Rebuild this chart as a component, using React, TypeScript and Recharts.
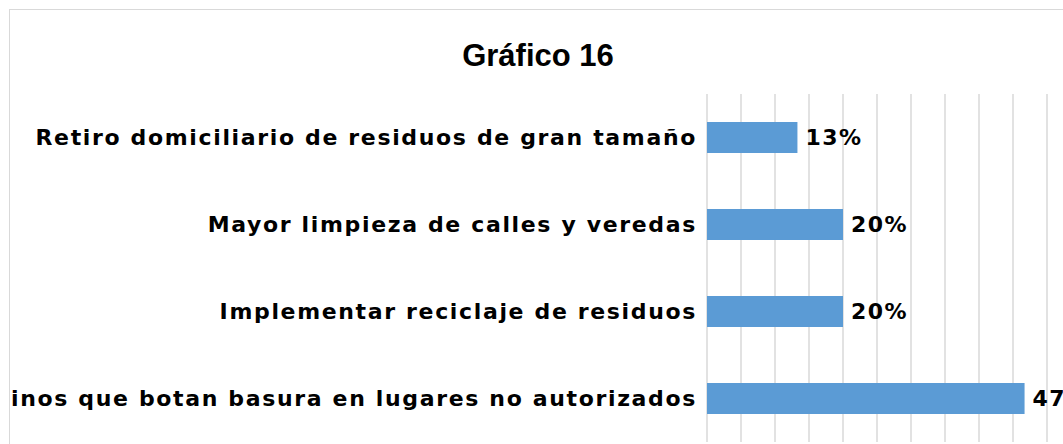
import React from 'react';
import { BarChart, Bar, XAxis, YAxis, CartesianGrid, LabelList } from 'recharts';

// Survey answers, top to bottom as they appear in the chart
const categories = [
  'Retiro domiciliario de residuos de gran tamaño',
  'Mayor limpieza de calles y veredas',
  'Implementar reciclaje de residuos',
  'Sancionar a vecinos que botan basura en lugares no autorizados',
];
const shares = [0.133, 0.2, 0.2, 0.467];
const gridTicks = [0, 0.05, 0.1, 0.15, 0.2, 0.25, 0.3, 0.35, 0.4, 0.45, 0.5];

const data = categories.map((name, i) => ({ name, value: shares[i] }));

const labelFont = "'DejaVu Sans', sans-serif";

const App: React.FC = () => {
  return (
    <div
      style={{
        position: 'fixed',
        left: 0,
        top: 0,
        width: 1063,
        height: 444,
        overflow: 'hidden',
        background: '#fff',
      }}
    >
      <div
        style={{
          position: 'absolute',
          left: 9,
          top: 9,
          width: 1058,
          height: 500,
          boxSizing: 'border-box',
          border: '1px solid #d9d9d9',
          overflow: 'hidden',
        }}
      >
        <div
          style={{
            position: 'absolute',
            left: 0,
            right: 0,
            top: 28,
            textAlign: 'center',
            fontFamily: "'Liberation Sans', Arial, sans-serif",
            fontWeight: 'bold',
            fontSize: 31,
            lineHeight: '36px',
            color: '#000',
          }}
        >
          Gráfico 16
        </div>
        <BarChart
          width={1056}
          height={480}
          data={data}
          layout="vertical"
          margin={{ top: 84, right: 19, left: 0, bottom: 48 }}
          barSize={31}
        >
          <CartesianGrid horizontal={false} vertical stroke="#d9d9d9" strokeWidth={1.5} />
          <XAxis type="number" domain={[0, 0.5]} ticks={gridTicks} hide />
          <YAxis
            type="category"
            dataKey="name"
            width={697}
            axisLine={false}
            tickLine={false}
            interval={0}
            tick={{
              fill: '#000',
              fontFamily: labelFont,
              fontWeight: 'bold',
              fontSize: 22,
              letterSpacing: 1.65,
            }}
            tickMargin={4}
          />
          <Bar dataKey="value" fill="#5b9bd5" isAnimationActive={false}>
            <LabelList
              dataKey="value"
              position="right"
              offset={8}
              formatter={(v: number) => `${Math.round(v * 100)}%`}
              style={{
                fill: '#000',
                fontFamily: labelFont,
                fontWeight: 'bold',
                fontSize: 22,
                letterSpacing: 1.5,
              }}
            />
          </Bar>
        </BarChart>
      </div>
    </div>
  );
};

export default App;
